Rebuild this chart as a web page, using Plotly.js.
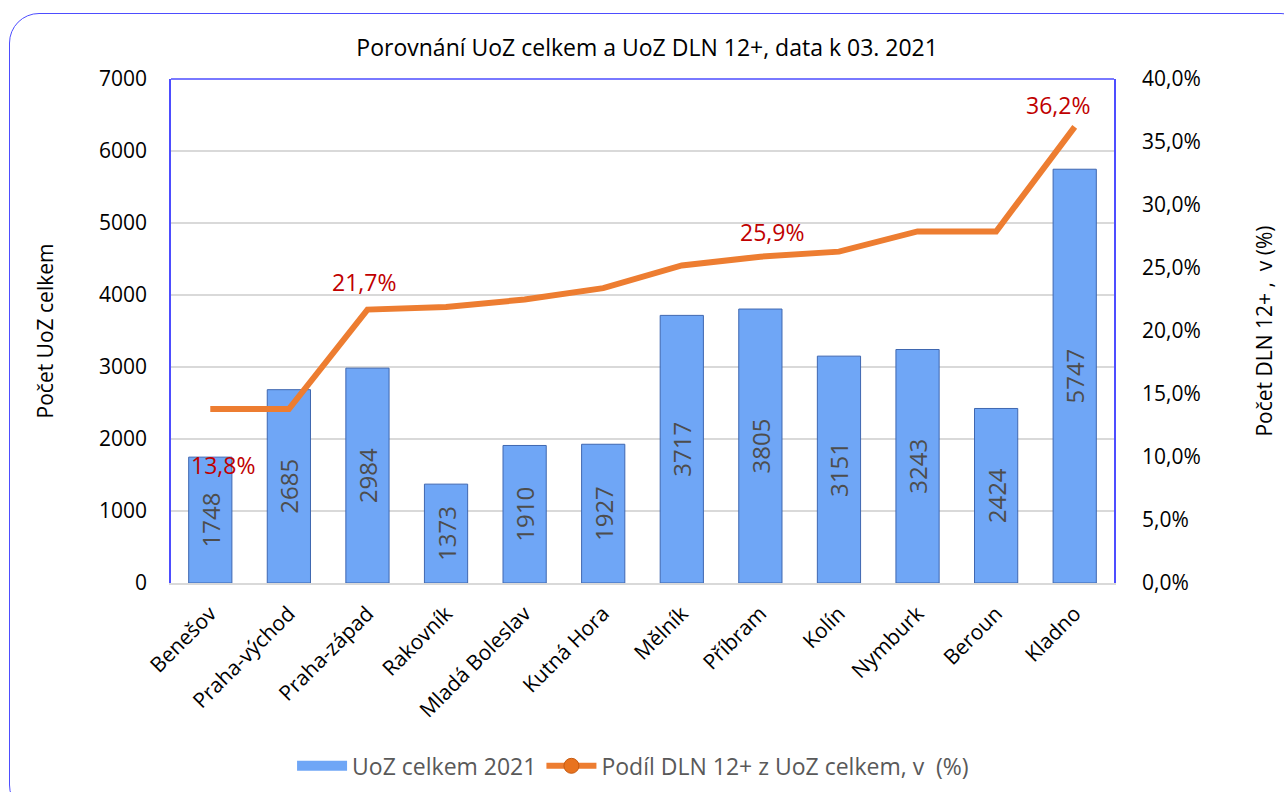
<html>
<head>
    <meta charset="utf-8">
    <script src="https://cdn.plot.ly/plotly-3.0.1.min.js"></script>
    <style type="text/css">
        body {margin:0; overflow:hidden; background:#fff;}
        #frame {position:absolute; left:9px; top:13px; width:1300px; height:800px;
                border:1.5px solid #4d4dff; border-radius:30px;}
        #chart {position:absolute; left:0; top:0; width:1284px; height:792px;}
    </style>
</head>
<body>
    <div id="frame"></div>
    <div id="chart"></div>
    <script>
        var okresy = ['Benešov', 'Praha-východ', 'Praha-západ', 'Rakovník', 'Mladá Boleslav', 'Kutná Hora',
                      'Mělník', 'Příbram', 'Kolín', 'Nymburk', 'Beroun', 'Kladno'];
        var uozCelkem = [1748, 2685, 2984, 1373, 1910, 1927, 3717, 3805, 3151, 3243, 2424, 5747];
        var podilDLN = [0.138, 0.138, 0.217, 0.219, 0.225, 0.234, 0.252, 0.259, 0.263, 0.279, 0.279, 0.362];
        // which points get a red label: index -> text
        var popisky = {0: '13,8%', 2: '21,7%', 7: '25,9%', 11: '36,2%'};
        var posunX = {0: 13, 2: -3, 7: 12, 11: -17};
        var posunY = {0: -56, 2: 28, 7: 25, 11: 22};

        var font = 'Open Sans, Noto Sans, sans-serif';
        var modra = '#6fa6f6';

        var bars = {
            type: 'bar',
            name: 'UoZ celkem 2021',
            x: okresy,
            y: uozCelkem,
            text: uozCelkem.map(String),
            textposition: 'inside',
            insidetextanchor: 'middle',
            textangle: -90,
            textfont: {size: 24, color: '#4d4d4d', family: font},
            marker: {color: modra, line: {color: '#3f67b0', width: 1}},
            showlegend: false,
            hoverinfo: 'x+y'
        };

        var line = {
            type: 'scatter',
            mode: 'lines',
            x: okresy,
            y: podilDLN,
            yaxis: 'y2',
            line: {color: '#ed7d31', width: 6},
            showlegend: false
        };

        // legend entries only
        var barsLegend = {
            type: 'scatter', mode: 'lines', name: 'UoZ celkem 2021',
            x: [null], y: [null],
            line: {color: modra, width: 14}
        };
        var lineLegend = {
            type: 'scatter', mode: 'lines+markers', name: 'Podíl DLN 12+ z UoZ celkem, v  (%)',
            x: [null], y: [null], yaxis: 'y2',
            line: {color: '#ed7d31', width: 6},
            marker: {color: '#e8731f', size: 15, line: {color: '#c55a11', width: 1}}
        };

        var annotations = Object.keys(popisky).map(function (k) {
            var i = parseInt(k);
            return {
                x: okresy[i], y: podilDLN[i], xref: 'x', yref: 'y2',
                text: popisky[k], showarrow: false,
                xshift: posunX[k], yshift: posunY[k],
                font: {size: 23, color: '#c00000', family: font}
            };
        });

        var layout = {
            width: 1284,
            height: 792,
            margin: {l: 171, r: 170, t: 79, b: 209},
            paper_bgcolor: 'rgba(0,0,0,0)',
            plot_bgcolor: '#ffffff',
            separators: ', ',
            font: {family: font, size: 21, color: '#000'},
            title: {text: 'Porovnání UoZ celkem a UoZ DLN 12+, data k 03. 2021',
                    font: {size: 23, family: font, color: '#000'}, x: 0.504, xanchor: 'center', y: 0.94, yanchor: 'middle'},
            bargap: 0.45,
            showlegend: true,
            legend: {orientation: 'h', x: 0.49, xanchor: 'center', yref: 'container', y: 0.033, yanchor: 'middle',
                     font: {size: 23, color: '#595959', family: font}, itemwidth: 50},
            annotations: annotations,
            xaxis: {
                tickangle: -45,
                tickfont: {size: 21, family: font},
                showline: true, linecolor: '#d9d9d9', linewidth: 2,
                ticks: '', ticklabelstandoff: 8,
                automargin: false,
                fixedrange: true
            },
            yaxis: {
                range: [0, 7000],
                dtick: 1000,
                tickfont: {size: 21, family: font},
                showline: true, linecolor: '#4d4dff', linewidth: 1.5,
                gridcolor: '#d9d9d9', gridwidth: 1.5,
                zeroline: false,
                ticks: '', ticklabelstandoff: 18,
                automargin: false,
                title: {text: 'Počet UoZ celkem', font: {size: 21, family: font}, standoff: 40}
            },
            yaxis2: {
                overlaying: 'y',
                side: 'right',
                range: [0, 0.4],
                dtick: 0.05,
                tickformat: '.1%',
                tickfont: {size: 21, family: font},
                showline: true, linecolor: '#4d4dff', linewidth: 1.5,
                showgrid: false,
                zeroline: false,
                ticks: '', ticklabelstandoff: 22,
                automargin: false,
                title: {text: 'Počet DLN 12+ ,  v (%)', font: {size: 21, family: font}, standoff: 58}
            },
            shapes: [
                {type: 'line', xref: 'paper', yref: 'paper', x0: 0, x1: 1, y0: 1, y1: 1,
                 line: {color: '#4d4dff', width: 1.5}}
            ]
        };

        Plotly.newPlot('chart', [bars, line, barsLegend, lineLegend], layout, {displayModeBar: false});
    </script>
</body>
</html>
